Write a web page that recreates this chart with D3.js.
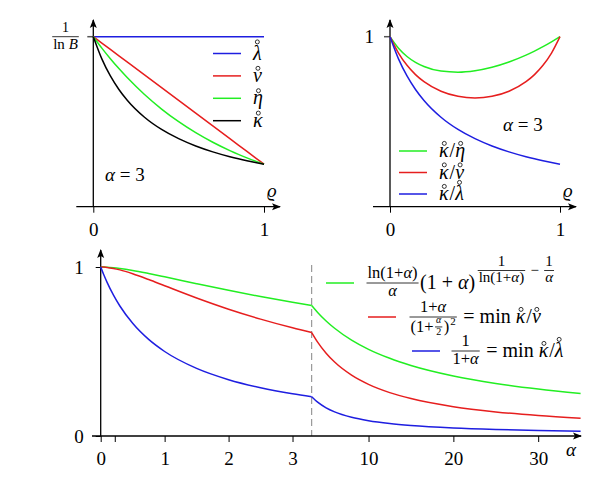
<!DOCTYPE html>
<html>
<head>
<meta charset="utf-8">
<script src="https://cdnjs.cloudflare.com/ajax/libs/d3/7.8.5/d3.min.js"></script>
<style>
  body { margin: 0; background: white; }
</style>
</head>
<body>
<script>

// ---- data ----

// top panels, alpha = 3, values relative to 1/ln B
var rho = [0, 0.05, 0.1, 0.15, 0.2, 0.3, 0.4, 0.5, 0.6, 0.7, 0.8, 0.85, 0.9, 0.95, 1];
var lambdaVals = [1, 1, 1, 1, 1, 1, 1, 1, 1, 1, 1, 1, 1, 1, 1];
var nuVals = [1, 0.9625, 0.925, 0.8875, 0.85, 0.775, 0.7, 0.625, 0.55, 0.475, 0.4, 0.3625, 0.325, 0.2875, 0.25];
var etaVals = [1, 0.933, 0.8706, 0.8123, 0.7579, 0.6598, 0.5743, 0.5, 0.4353, 0.3789, 0.3299, 0.3078, 0.2872, 0.2679, 0.25];
var kappaVals = [1, 0.8696, 0.7692, 0.6897, 0.625, 0.5263, 0.4545, 0.4, 0.3571, 0.3226, 0.2941, 0.2817, 0.2703, 0.2597, 0.25];

// top right: ratios
var kappaEta = [1, 0.932, 0.8836, 0.849, 0.8247, 0.7977, 0.7914, 0.8, 0.8205, 0.8513, 0.8916, 0.9152, 0.9411, 0.9694, 1];
var kappaNu = [1, 0.9034, 0.8316, 0.7771, 0.7353, 0.6791, 0.6494, 0.64, 0.6494, 0.6791, 0.7353, 0.7771, 0.8316, 0.9034, 1];
var kappaLambda = [1, 0.8696, 0.7692, 0.6897, 0.625, 0.5263, 0.4545, 0.4, 0.3571, 0.3226, 0.2941, 0.2817, 0.2703, 0.2597, 0.25];

// bottom panel: minima against alpha (axis broken at 3.3)
var alphas = [0, 0.05, 0.1, 0.2, 0.3, 0.5, 0.75, 1, 1.5, 2, 2.5, 3, 3.3, 4, 5, 6, 8, 10, 12.5, 15, 20, 25, 30, 35];
var greenMin = [1, 0.9997, 0.9989, 0.9958, 0.9914, 0.9798, 0.9617, 0.9421, 0.9015, 0.8621, 0.8253, 0.7913, 0.7723,
                0.7314, 0.6808, 0.6374, 0.5673, 0.5128, 0.4597, 0.4176, 0.3554, 0.311, 0.2775, 0.2512];
var redMin = [1, 0.9994, 0.9977, 0.9917, 0.983, 0.96, 0.9256, 0.8889, 0.8163, 0.75, 0.6914, 0.64, 0.6123,
              0.5556, 0.4898, 0.4375, 0.36, 0.3056, 0.2568, 0.2215, 0.1736, 0.1427, 0.1211, 0.1052];
var blueMin = [1, 0.9524, 0.9091, 0.8333, 0.7692, 0.6667, 0.5714, 0.5, 0.4, 0.3333, 0.2857, 0.25, 0.2326,
               0.2, 0.1667, 0.1429, 0.1111, 0.0909, 0.0741, 0.0625, 0.0476, 0.0385, 0.0323, 0.0278];

var alphaBreak = 3.3;
var alphaMax = 35;
var alphaTicksLeft = [0, 1, 2, 3];
var alphaTicksRight = [10, 20, 30];
var alphaMinorTicks = [0.22];

var GREEN = "#22ee22", RED = "#e61e1e", BLUE = "#1e1ee0";
var SERIF = "'Liberation Serif', 'DejaVu Serif', serif";
var FS = 19;   // main font size

var svg = d3.select("body").append("svg")
    .attr("width", 610)
    .attr("height", 480);

svg.append("rect").attr("width", 610).attr("height", 480).attr("fill", "white");

// arrow head (stealth style)
svg.append("defs").append("marker")
    .attr("id", "arrow")
    .attr("viewBox", "0 -4 9 8")
    .attr("refX", 8)
    .attr("refY", 0)
    .attr("markerWidth", 9)
    .attr("markerHeight", 8)
    .attr("markerUnits", "userSpaceOnUse")
    .attr("orient", "auto")
  .append("path")
    .attr("d", "M0,-3.5L9,0L0,3.5L2,0Z")
    .attr("fill", "black");

// write a math string, letters in italics
function math_text(t, s) {
    var re = /([α-ωϱB])|([^α-ωϱB]+)/g, m;
    while ((m = re.exec(s)) !== null) {
        t.append("tspan")
         .attr("font-style", m[1] ? "italic" : "normal")
         .text(m[0]);
    }
}

// lay out a small formula tree, baseline at y = 0; returns group and width
function put(parent, node, size) {
    var g = parent.append("g");
    if (typeof node === "string" && node.indexOf("\u030A") >= 0) {
        // letters with a ring above
        node = {row: node.split(/([α-ωϱ]\u030A)/).filter(function(p) { return p.length; })
                     .map(function(p) { return p[1] === "\u030A" ? {ring: p[0]} : p; })};
    }
    if (typeof node === "string") {
        var t = g.append("text")
                 .attr("font-size", size)
                 .style("font-family", SERIF)
                 .style("white-space", "pre");
        math_text(t, node);
        return {g: g, w: t.node().getComputedTextLength()};
    }
    if (node.ring) {
        var tr = g.append("text").attr("font-size", size).style("font-family", SERIF)
                  .attr("font-style", "italic").text(node.ring);
        var wr = tr.node().getComputedTextLength();
        var tall = node.ring === "λ";
        g.append("circle")
         .attr("cx", wr * 0.5 + (tall ? 0 : 0.5))
         .attr("cy", tall ? -0.88 * size : -0.68 * size)
         .attr("r", 0.1 * size)
         .attr("fill", "none")
         .attr("stroke", "black")
         .attr("stroke-width", 0.8);
        return {g: g, w: wr + 1};
    }
    if (node.row) {
        var x = 0;
        node.row.forEach(function(c) {
            var r = put(g, c, size);
            r.g.attr("transform", "translate(" + x + ",0)");
            x += r.w;
        });
        return {g: g, w: x};
    }
    if (node.num !== undefined) {
        var ns = node.ns || size * 0.72, ds = node.ds || size * 0.72;
        var n = put(g, node.num, ns), d = put(g, node.den, ds);
        var w = Math.max(n.w, d.w) + 2;
        var bar = -0.3 * size;
        n.g.attr("transform", "translate(" + (1.5 + (w - n.w) / 2) + "," + (bar - 0.25 * ns - 1) + ")");
        d.g.attr("transform", "translate(" + (1.5 + (w - d.w) / 2) + "," + (bar + 0.72 * ds + 1 + (node.dd || 0)) + ")");
        g.append("line")
         .attr("x1", 1.5).attr("x2", 1.5 + w)
         .attr("y1", bar).attr("y2", bar)
         .attr("stroke", "black").attr("stroke-width", 0.8);
        return {g: g, w: w + 3};
    }
    if (node.sup !== undefined) {
        var r2 = put(g, node.sup, node.size || size * 0.7);
        r2.g.attr("transform", "translate(1," + (node.dy || -0.45 * size) + ")");
        return {g: g, w: r2.w + 1};
    }
}

function draw_math(parent, x, y, node, size) {
    var r = put(parent, node, size);
    r.g.attr("transform", "translate(" + x + "," + y + ")");
    return r;
}

function axis_lines(g, x0, x1, y, xa, ya0, ya1) {
    g.append("line")
     .attr("x1", x0).attr("x2", x1).attr("y1", y).attr("y2", y)
     .attr("stroke", "black").attr("stroke-width", 1.3)
     .attr("marker-end", "url(#arrow)");
    g.append("line")
     .attr("x1", xa).attr("x2", xa).attr("y1", ya0).attr("y2", ya1)
     .attr("stroke", "black").attr("stroke-width", 1.3)
     .attr("marker-end", "url(#arrow)");
}

function style_axis(sel) {
    sel.select(".domain").remove();
    sel.selectAll(".tick line").attr("stroke", "black").attr("stroke-width", 1);
    sel.selectAll(".tick text")
       .attr("font-size", FS)
       .style("font-family", SERIF);
}

function make_top_panel(xr, series, legend, legendPos, alphaPos, yLabel) {

    var xScale = d3.scaleLinear().domain([0, 1]).range(xr);
    var yScale = d3.scaleLinear().domain([0, 1]).range([206.7, 36.7]);
    var g = svg.append("g");

    // ticks and labels
    g.append("g")
     .attr("transform", "translate(0," + yScale(0) + ")")
     .call(d3.axisBottom(xScale).tickValues([0, 1]).tickSize(6).tickPadding(10).tickFormat(d3.format("d")))
     .call(style_axis);

    g.append("line")
     .attr("x1", xScale(0) - 6).attr("x2", xScale(0))
     .attr("y1", yScale(1)).attr("y2", yScale(1))
     .attr("stroke", "#555").attr("stroke-width", 1.5);

    yLabel(g, xScale(0), yScale(1));

    axis_lines(g, xScale(0) - 17, xScale(1) + 16, yScale(0), xScale(0), yScale(0), 20);

    // curves
    var line = d3.line()
        .x(function(d) { return xScale(d[0]); })
        .y(function(d) { return yScale(d[1]); })
        .curve(d3.curveMonotoneX);

    series.forEach(function(s) {
        g.append("path")
         .datum(rho.map(function(r, i) { return [r, s.values[i]]; }))
         .attr("d", line)
         .attr("fill", "none")
         .attr("stroke", s.color)
         .attr("stroke-width", 1.5);
    });

    // legend
    legend.forEach(function(l, i) {
        var ly = legendPos[1] + i * legendPos[2];
        g.append("line")
         .attr("x1", legendPos[0]).attr("x2", legendPos[0] + 28)
         .attr("y1", ly).attr("y2", ly)
         .attr("stroke", l.color).attr("stroke-width", 1.5);
        draw_math(g, legendPos[0] + 40, ly + 6, l.label, FS + 1);
    });

    draw_math(g, alphaPos[0], alphaPos[1], "α = 3", FS);
    draw_math(g, xScale(1) + 3, 197, "ϱ", FS);
}

// ---- top left ----
make_top_panel([93.3, 264],
    [{values: lambdaVals, color: BLUE},
     {values: nuVals, color: RED},
     {values: etaVals, color: GREEN},
     {values: kappaVals, color: "black"}],
    [{label: "λ̊", color: BLUE},
     {label: "ν̊", color: RED},
     {label: "η̊", color: GREEN},
     {label: "κ̊", color: "black"}],
    [213, 53.5, 22.4],
    [105, 181],
    function(g, x, y) {
        var r = put(g, {num: "1", den: "ln B", ns: 14, ds: 15}, FS);
        r.g.attr("transform", "translate(" + (x - 13 - r.w) + "," + (y + 0.3 * FS) + ")");
    });

// ---- top right ----
make_top_panel([390, 560],
    [{values: kappaEta, color: GREEN},
     {values: kappaNu, color: RED},
     {values: kappaLambda, color: BLUE}],
    [{label: "κ̊/η̊", color: GREEN},
     {label: "κ̊/ν̊", color: RED},
     {label: "κ̊/λ̊", color: BLUE}],
    [399, 151, 21.5],
    [503, 131],
    function(g, x, y) {
        g.append("text")
         .attr("x", x - 16).attr("y", y + 6.5)
         .attr("text-anchor", "end")
         .attr("font-size", FS)
         .style("font-family", SERIF)
         .text("1");
    });

// ---- bottom panel ----
var xLeft = d3.scaleLinear().domain([0, alphaBreak]).range([100.7, 311.7]);
var xRight = d3.scaleLinear().domain([alphaBreak, alphaMax]).range([311.7, 580.6]);
var yBottom = d3.scaleLinear().domain([0, 1]).range([436, 267]);

function xAlpha(a) {
    return a <= alphaBreak ? xLeft(a) : xRight(a);
}

var gb = svg.append("g");

gb.append("g")
  .attr("transform", "translate(0,436)")
  .call(d3.axisBottom(xLeft).tickValues(alphaTicksLeft).tickSize(6).tickPadding(10).tickFormat(d3.format("d")))
  .call(style_axis);

gb.append("g")
  .attr("transform", "translate(0,436)")
  .call(d3.axisBottom(xLeft).tickValues(alphaMinorTicks).tickSize(6).tickFormat(""))
  .call(style_axis);

gb.append("g")
  .attr("transform", "translate(0,436)")
  .call(d3.axisBottom(xRight).tickValues(alphaTicksRight).tickSize(6).tickPadding(10).tickFormat(d3.format("d")))
  .call(style_axis);

gb.append("g")
  .attr("transform", "translate(100.7,0)")
  .call(d3.axisLeft(yBottom).tickValues([0, 1]).tickSize(5).tickPadding(12).tickFormat(d3.format("d")))
  .call(style_axis);

// dashed line at the axis break
gb.append("line")
  .attr("x1", xAlpha(alphaBreak)).attr("x2", xAlpha(alphaBreak))
  .attr("y1", 265).attr("y2", 436)
  .attr("stroke", "#777").attr("stroke-width", 0.9)
  .attr("stroke-dasharray", "7,4");

axis_lines(gb, 92, 581, 436, 100.7, 436, 250);

var lineB = d3.line()
    .x(function(d) { return xAlpha(d[0]); })
    .y(function(d) { return yBottom(d[1]); })
    .curve(d3.curveMonotoneX);

[[greenMin, GREEN], [redMin, RED], [blueMin, BLUE]].forEach(function(s) {
    var pts = alphas.map(function(a, i) { return [a, s[0][i]]; });
    // draw the two halves apart so the kink at the break stays sharp
    var left = pts.filter(function(d) { return d[0] <= alphaBreak; });
    var right = pts.filter(function(d) { return d[0] >= alphaBreak; });
    [left, right].forEach(function(part) {
        gb.append("path")
          .datum(part)
          .attr("d", lineB)
          .attr("fill", "none")
          .attr("stroke", s[1])
          .attr("stroke-width", 1.5);
    });
});

draw_math(gb, 566, 456, "α", FS);

// legend with formulas
var legendB = [
    {color: GREEN, x: 326, y: 283, fx: 365,
     formula: {row: [{num: "ln(1+α)", den: "α", ns: 16.5, ds: 16.5},
                     "(1 + α)",
                     {sup: {row: [{num: "1", den: "ln(1+α)", ns: 15, ds: 15}, " − ", {num: "1", den: "α", ns: 15, ds: 15}]},
                      size: 15, dy: -14}]}},
    {color: RED, x: 368, y: 317, fx: 408,
     formula: {row: [{num: "1+α",
                      den: {row: ["(1+", {num: "α", den: "2", ns: 10, ds: 10}, ")", {sup: "2", size: 11, dy: -7}]},
                      ns: 16.5, ds: 16.5, dd: 2},
                     " = min ", "κ̊/ν̊"]}},
    {color: BLUE, x: 412, y: 351, fx: 450,
     formula: {row: [{num: "1", den: "1+α", ns: 16.5, ds: 16.5}, " = min ", "κ̊/λ̊"]}}
];

legendB.forEach(function(l) {
    gb.append("line")
      .attr("x1", l.x).attr("x2", l.x + 28)
      .attr("y1", l.y).attr("y2", l.y)
      .attr("stroke", l.color).attr("stroke-width", 1.5);
    draw_math(gb, l.fx, l.y + 0.3 * (FS + 1), l.formula, FS + 1);
});

</script>
</body>
</html>
